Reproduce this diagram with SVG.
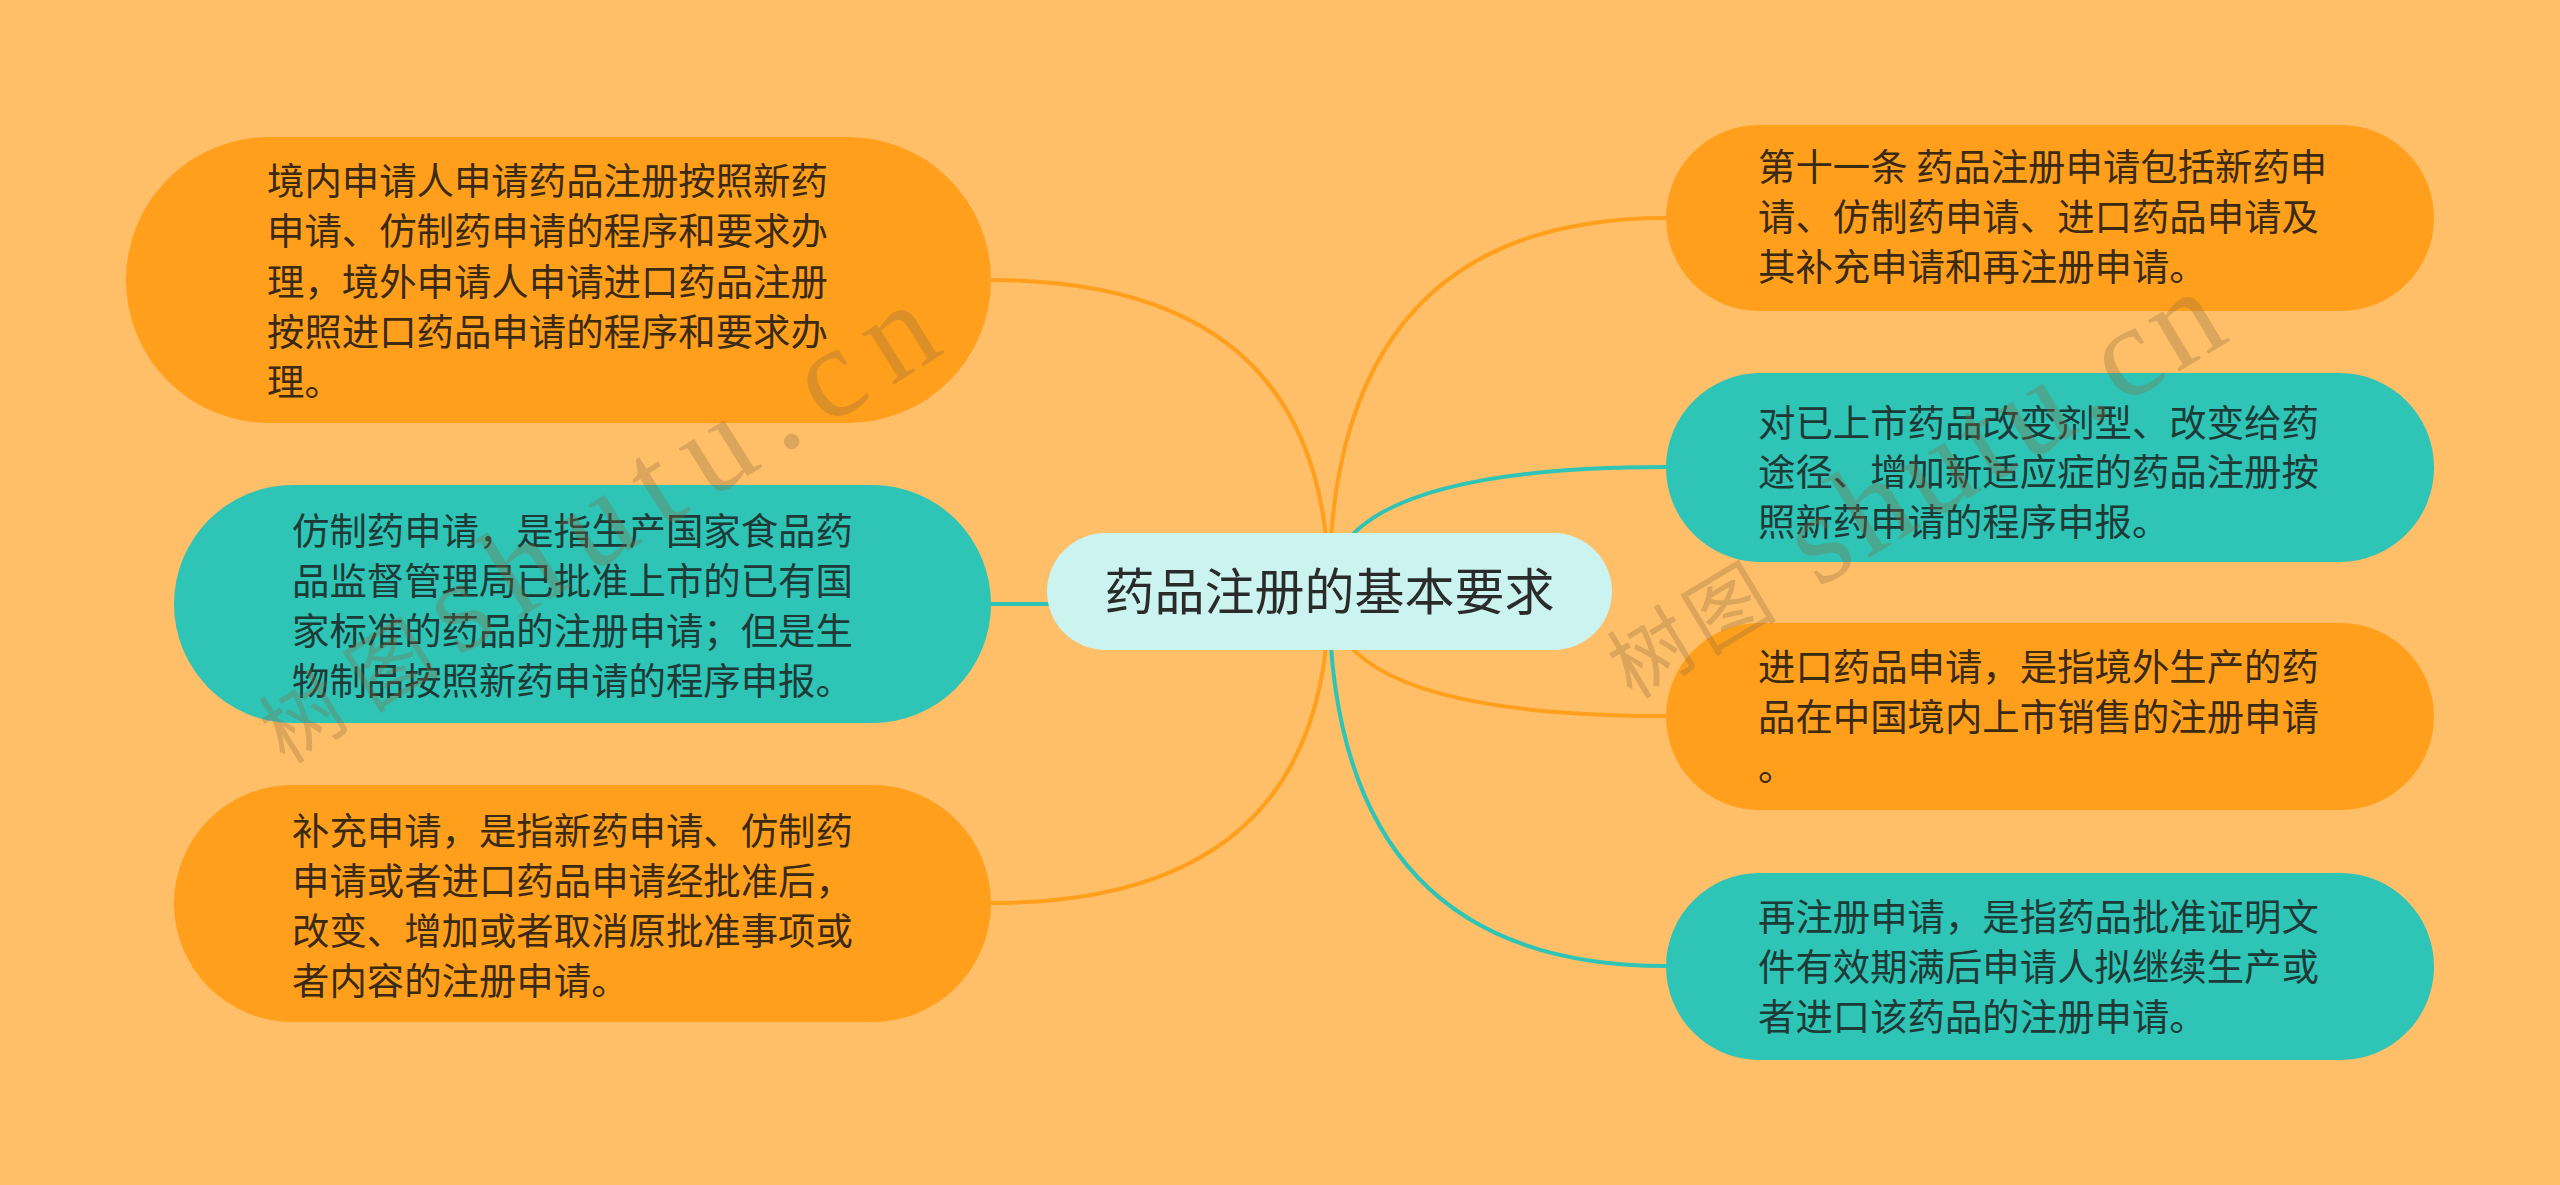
<svg xmlns="http://www.w3.org/2000/svg" width="2560" height="1185" viewBox="0 0 2560 1185">
<style>
.bg{fill:#FFBF69}
.orange{fill:#FF9F1C}
.teal{fill:#2EC4B6}
.center{fill:#CBF3F0}
.t{font-family:"Noto Sans CJK SC","Noto Sans",sans-serif;font-size:37.4px}
.to{fill:#3A2A12}
.tt{fill:#1E3A36}
.tc{font-family:"Noto Sans CJK SC","Noto Sans",sans-serif;font-size:50px;fill:#2B2B2B}
.lo{fill:none;stroke:#FF9F1C;stroke-width:4}
.lt{fill:none;stroke:#2EC4B6;stroke-width:4}
.wm{font-family:"Liberation Serif","Noto Sans CJK SC",serif;font-size:130px;fill:#8B6B3D;opacity:0.3}
.wmc{font-family:"Noto Sans CJK SC",sans-serif;font-size:82px}
</style>
<rect class="bg" x="0" y="0" width="2560" height="1185"/>
<g id="connectors">
<path class="lo" d="M1329 592 Q1329 280 991 280"/>
<path class="lt" d="M1329 592 Q1329 604 991 604"/>
<path class="lo" d="M1329 592 Q1329 903 991 903"/>
<path class="lo" d="M1329 592 Q1329 218 1666 218"/>
<path class="lt" d="M1329 592 Q1329 467 1666 467"/>
<path class="lo" d="M1329 592 Q1329 716 1666 716"/>
<path class="lt" d="M1329 592 Q1329 966 1666 966"/>
</g>
<g id="node-center">
<rect class="center" x="1047" y="533" width="565" height="117" rx="58.5"/>
<text class="tc" x="1329.5" y="610" text-anchor="middle">药品注册的基本要求</text>
</g>
<g id="node-l1">
<rect class="orange" x="126" y="137" width="865" height="286" rx="143"/>
<text class="t to" x="267"><tspan x="267" y="195">境内申请人申请药品注册按照新药</tspan><tspan x="267" y="245">申请、仿制药申请的程序和要求办</tspan><tspan x="267" y="296">理，境外申请人申请进口药品注册</tspan><tspan x="267" y="346">按照进口药品申请的程序和要求办</tspan><tspan x="267" y="396">理。</tspan></text>
</g>
<g id="node-l2">
<rect class="teal" x="174" y="485" width="817" height="238" rx="119"/>
<text class="t tt"><tspan x="292" y="545">仿制药申请，是指生产国家食品药</tspan><tspan x="292" y="595">品监督管理局已批准上市的已有国</tspan><tspan x="292" y="645">家标准的药品的注册申请；但是生</tspan><tspan x="292" y="695">物制品按照新药申请的程序申报。</tspan></text>
</g>
<g id="node-l3">
<rect class="orange" x="174" y="785" width="817" height="237" rx="118.5"/>
<text class="t to"><tspan x="292" y="845">补充申请，是指新药申请、仿制药</tspan><tspan x="292" y="895">申请或者进口药品申请经批准后，</tspan><tspan x="292" y="945">改变、增加或者取消原批准事项或</tspan><tspan x="292" y="995">者内容的注册申请。</tspan></text>
</g>
<g id="node-r1">
<rect class="orange" x="1666" y="125" width="768" height="186" rx="93"/>
<text class="t to"><tspan x="1758" y="181">第十一条 药品注册申请包括新药申</tspan><tspan x="1758" y="231">请、仿制药申请、进口药品申请及</tspan><tspan x="1758" y="281">其补充申请和再注册申请。</tspan></text>
</g>
<g id="node-r2">
<rect class="teal" x="1666" y="373" width="768" height="189" rx="94.5"/>
<text class="t tt"><tspan x="1758" y="437">对已上市药品改变剂型、改变给药</tspan><tspan x="1758" y="486">途径、增加新适应症的药品注册按</tspan><tspan x="1758" y="536">照新药申请的程序申报。</tspan></text>
</g>
<g id="node-r3">
<rect class="orange" x="1666" y="623" width="768" height="187" rx="93.5"/>
<text class="t to"><tspan x="1758" y="681">进口药品申请，是指境外生产的药</tspan><tspan x="1758" y="731">品在中国境内上市销售的注册申请</tspan><tspan x="1758" y="781">。</tspan></text>
</g>
<g id="node-r4">
<rect class="teal" x="1666" y="873" width="768" height="187" rx="93.5"/>
<text class="t tt"><tspan x="1758" y="931">再注册申请，是指药品批准证明文</tspan><tspan x="1758" y="981">件有效期满后申请人拟继续生产或</tspan><tspan x="1758" y="1031">者进口该药品的注册申请。</tspan></text>
</g>
<g id="watermarks">
<text class="wm" transform="translate(285 765) rotate(-32)" textLength="780" lengthAdjust="spacing"><tspan class="wmc">树图</tspan>shutu.cn</text>
<text class="wm" transform="translate(1632 700) rotate(-31)" textLength="700" lengthAdjust="spacing"><tspan class="wmc">树图</tspan> shutu.cn</text>
</g>
</svg>
